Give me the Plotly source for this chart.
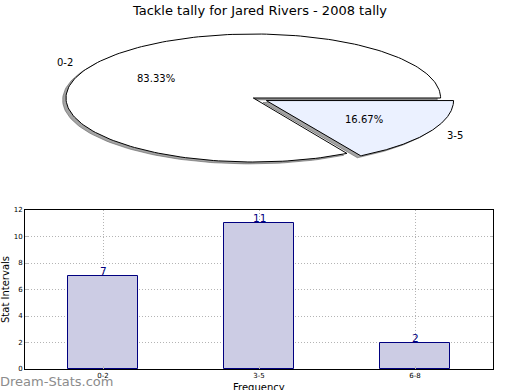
import numpy as np
import plotly.graph_objects as go

# ---- data ----
pie_labels = ["0-2", "3-5"]
pie_values = [5, 1]
pie_colors = ["#FFFFFF", "#EBF1FF"]
pie_explode = [0.0, 0.08]

bar_categories = ["0-2", "3-5", "6-8"]
bar_values = [7, 11, 2]
y_ticks = [0, 2, 4, 6, 8, 10, 12]

title_text = "Tackle tally for Jared Rivers - 2008 tally"

fig = go.Figure()

# ---- pie drawn as wedges on an un-equal-aspect axis (like the reference) ----
total = float(sum(pie_values))
fracs = [v / total for v in pie_values]
start = 0.0
wedges = []
for lab, f, col, ex in zip(pie_labels, fracs, pie_colors, pie_explode):
    t1 = start
    t2 = start + 360.0 * f
    mid = np.deg2rad((t1 + t2) / 2)
    cx, cy = ex * np.cos(mid), ex * np.sin(mid)
    th = np.deg2rad(np.linspace(t1, t2, 200))
    xs = np.concatenate([[cx], cx + np.cos(th), [cx]])
    ys = np.concatenate([[cy], cy + np.sin(th), [cy]])
    wedges.append((lab, f, col, xs, ys, mid, cx, cy))
    start = t2

sx, sy = -0.018, -0.03
for lab, f, col, xs, ys, mid, cx, cy in wedges:
    fig.add_trace(go.Scatter(x=xs + sx, y=ys + sy, mode="lines", fill="toself",
                             fillcolor="rgba(90,90,90,0.55)",
                             line=dict(color="rgba(90,90,90,0.55)", width=1),
                             xaxis="x2", yaxis="y2", hoverinfo="skip", showlegend=False))
for lab, f, col, xs, ys, mid, cx, cy in wedges:
    fig.add_trace(go.Scatter(x=xs, y=ys, mode="lines", fill="toself", fillcolor=col,
                             line=dict(color="black", width=1),
                             xaxis="x2", yaxis="y2", name=lab, showlegend=False))
for lab, f, col, xs, ys, mid, cx, cy in wedges:
    lx, ly = cx + 1.1 * np.cos(mid), cy + 1.1 * np.sin(mid)
    fig.add_annotation(x=lx, y=ly, xref="x2", yref="y2", text=lab, showarrow=False,
                       xanchor="left" if lx > 0 else "right", yanchor="middle",
                       font=dict(family="DejaVu Sans", size=10, color="black"))
    px, py = cx + 0.6 * np.cos(mid), cy + 0.6 * np.sin(mid)
    fig.add_annotation(x=px, y=py, xref="x2", yref="y2", text="%.2f%%" % (f * 100),
                       showarrow=False, xanchor="center", yanchor="middle",
                       font=dict(family="DejaVu Sans", size=10, color="black"))

# ---- bar chart ----
fig.add_trace(go.Bar(x=bar_categories, y=bar_values, width=0.45,
                     marker=dict(color="#CCCCE4", line=dict(color="#000080", width=1)),
                     showlegend=False, xaxis="x", yaxis="y"))
for c, v in zip(bar_categories, bar_values):
    fig.add_annotation(x=c, y=v, xref="x", yref="y", text=str(v), showarrow=False,
                       xanchor="center", yanchor="bottom", yshift=-3,
                       font=dict(family="DejaVu Sans", size=10.5, color="#000080"))

W, H = 520, 390
a_px, b_px = 187.3, 64.0
cxp, cyp = 253.3, 98.0
pie_bottom_px = 195.0

grid = dict(showgrid=True, gridcolor="#B4B4B4", griddash="1px,2px", gridwidth=1)

fig.update_layout(
    width=W, height=H,
    margin=dict(l=0, r=0, t=0, b=0, autoexpand=False),
    paper_bgcolor="white", plot_bgcolor="white",
    font=dict(family="DejaVu Sans", color="black"),
    title=dict(text=title_text, x=0.5, xanchor="center", y=1 - 10.5 / H, yanchor="middle",
               automargin=False,
               font=dict(family="DejaVu Sans", size=13, color="black")),
    bargap=0,
    xaxis2=dict(domain=[0, 1], anchor="y2",
                range=[-cxp / a_px, (W - cxp) / a_px], visible=False),
    yaxis2=dict(domain=[1 - pie_bottom_px / H, 1], anchor="x2",
                range=[-(pie_bottom_px - cyp) / b_px, cyp / b_px], visible=False),
    xaxis=dict(domain=[25 / W, 493 / W], anchor="y", range=[-0.5, 2.5], automargin=False,
               showline=True, linecolor="black", linewidth=1, mirror=True,
               layer="above traces",
               ticks="inside", ticklen=3, tickcolor="#BBBBBB",
               tickfont=dict(family="DejaVu Sans", size=7, color="black"),
               **grid),
    yaxis=dict(domain=[(H - 369) / H, (H - 210) / H], anchor="x", range=[0, 12],
               automargin=False, layer="above traces",
               tickvals=y_ticks, showline=True, linecolor="black", linewidth=1, mirror="ticks",
               ticks="inside", ticklen=3, tickcolor="#BBBBBB",
               tickfont=dict(family="DejaVu Sans", size=7, color="black"),
               title=dict(text="Stat Intervals", standoff=4,
                          font=dict(family="DejaVu Sans", size=10, color="black")),
               **grid),
)

fig.add_annotation(x=(25 + 493) / 2 / W, y=1 - 387 / H, xref="paper", yref="paper",
                   text="Frequency", showarrow=False, xanchor="center", yanchor="middle",
                   font=dict(family="DejaVu Sans", size=10, color="black"))

fig.add_annotation(x=0, y=1 - 381 / H, xref="paper", yref="paper", text="Dream-Stats.com",
                   showarrow=False, xanchor="left", yanchor="middle", xshift=-2,
                   font=dict(family="DejaVu Sans", size=13, color="#8C8C8C"))

fig.write_html("out.html", config={"displayModeBar": False},
               post_script="document.body.style.margin='0px';document.body.style.overflow='hidden';")
